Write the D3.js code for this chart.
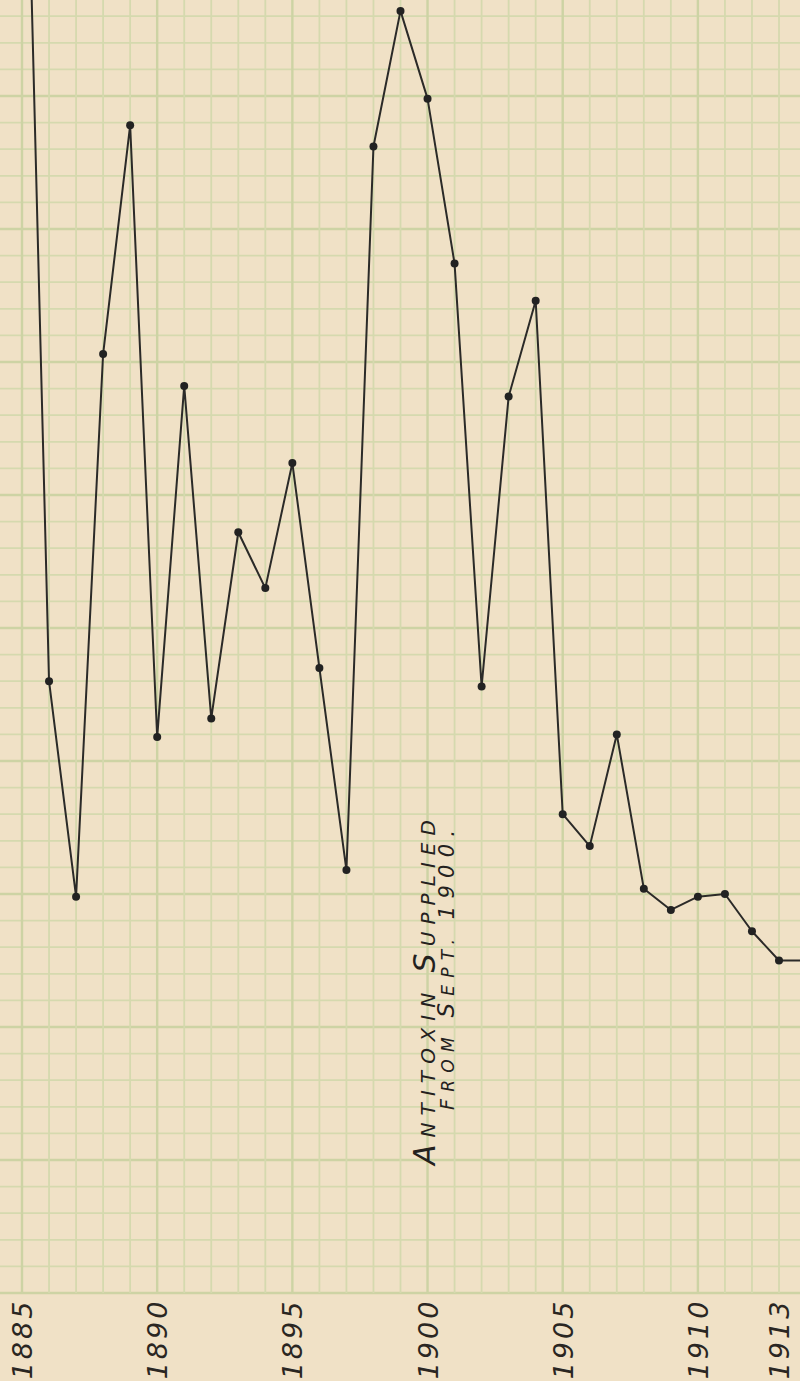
<!DOCTYPE html>
<meta charset="utf-8">
<script src="https://cdn.jsdelivr.net/npm/d3@7/dist/d3.min.js"></script>
<style>
  body { margin: 0; background: #f0e1c6; }
  svg { display: block; }
</style>
<div id="chart"></div>
<script>
  // values, in grid squares above the base line
  var years = [1885, 1886, 1887, 1888, 1889, 1890, 1891, 1892, 1893, 1894,
    1895, 1896, 1897, 1898, 1899, 1900, 1901, 1902, 1903, 1904,
    1905, 1906, 1907, 1908, 1909, 1910, 1911, 1912, 1913, 1914];
  var rates = [63, 23.0, 14.9, 35.3, 43.9, 20.9, 34.1, 21.6, 28.6, 26.5,
    31.2, 23.5, 15.9, 43.1, 48.2, 44.9, 38.7, 22.8, 33.7, 37.3,
    18.0, 16.8, 21.0, 15.2, 14.4, 14.9, 15.0, 13.6, 12.5, 12.5];
  var tickYears = [1885, 1890, 1895, 1900, 1905, 1910, 1913];
  var noteLine1 = [["A", 30], ["NTITOXIN ", 20], ["S", 30], ["UPPLIED", 20]];
  var noteLine2 = [["F", 19], ["ROM ", 17], ["S", 23], ["EPT. ", 17], ["1900.", 21]];

  var width = 800,
    height = 1381,
    base = 1293;

  var svg = d3.select("#chart")
    .append("svg")
    .attr("width", width)
    .attr("height", height);

  // paper
  svg.append("rect")
    .attr("width", width)
    .attr("height", height)
    .attr("fill", "#f0e1c6");

  var x = d3.scaleLinear()
    .domain([1885, 1913])
    .range([22, 779]);

  var y = d3.scaleLinear()
    .domain([0, 48])
    .range([base, base - 48 * 26.6]);

  // graph paper grid, a touch heavier every fifth line
  var gridYears = d3.range(1885, 1915);
  var gridRows = d3.range(0, 50);

  svg.append("g")
    .selectAll("line")
    .data(gridRows)
    .enter()
    .append("line")
    .attr("x1", 0)
    .attr("x2", width)
    .attr("y1", function (d) { return y(d); })
    .attr("y2", function (d) { return y(d); })
    .attr("stroke", function (d) { return d % 5 == 0 ? "#cdd3a4" : "#d5d9ae"; })
    .attr("stroke-width", function (d) { return d % 5 == 0 ? 2.4 : 1.8; });

  svg.append("g")
    .selectAll("line")
    .data(gridYears)
    .enter()
    .append("line")
    .attr("x1", function (d) { return x(d); })
    .attr("x2", function (d) { return x(d); })
    .attr("y1", 0)
    .attr("y2", base)
    .attr("stroke", function (d) { return (d - 1885) % 5 == 0 ? "#cdd3a4" : "#d5d9ae"; })
    .attr("stroke-width", function (d) { return (d - 1885) % 5 == 0 ? 2.4 : 1.8; });

  // the curve
  var points = years.map(function (d, i) { return { year: d, value: rates[i] }; });

  var line = d3.line()
    .x(function (d) { return x(d.year); })
    .y(function (d) { return y(d.value); });

  svg.append("path")
    .datum(points)
    .attr("d", line)
    .attr("fill", "none")
    .attr("stroke", "#2b2a28")
    .attr("stroke-width", 2)
    .attr("stroke-linejoin", "round");

  svg.append("g")
    .selectAll("circle")
    .data(points)
    .enter()
    .append("circle")
    .attr("cx", function (d) { return x(d.year); })
    .attr("cy", function (d) { return y(d.value); })
    .attr("r", 4)
    .attr("fill", "#222");

  // year labels along the bottom, written upward
  svg.append("g")
    .selectAll("text")
    .data(tickYears)
    .enter()
    .append("text")
    .attr("transform", function (d) { return "translate(" + (x(d) + 10) + ",1339) rotate(-90)"; })
    .attr("text-anchor", "middle")
    .style("font-family", "DejaVu Sans")
    .style("font-style", "italic")
    .style("font-size", "27px")
    .style("letter-spacing", "3px")
    .style("fill", "#2a2622")
    .text(function (d) { return d; });

  // note about antitoxin
  function note(parts, px, py, len) {
    var t = svg.append("text")
      .attr("transform", "translate(" + px + "," + py + ") rotate(-90)")
      .attr("textLength", len)
      .attr("lengthAdjust", "spacing")
      .style("font-family", "DejaVu Sans")
      .style("font-style", "italic")
      .style("fill", "#24211e");
    parts.forEach(function (p) {
      t.append("tspan")
        .style("font-size", p[1] + "px")
        .text(p[0]);
    });
  }
  note(noteLine1, 435, 1165, 345);
  note(noteLine2, 454, 1110, 280);
</script>
